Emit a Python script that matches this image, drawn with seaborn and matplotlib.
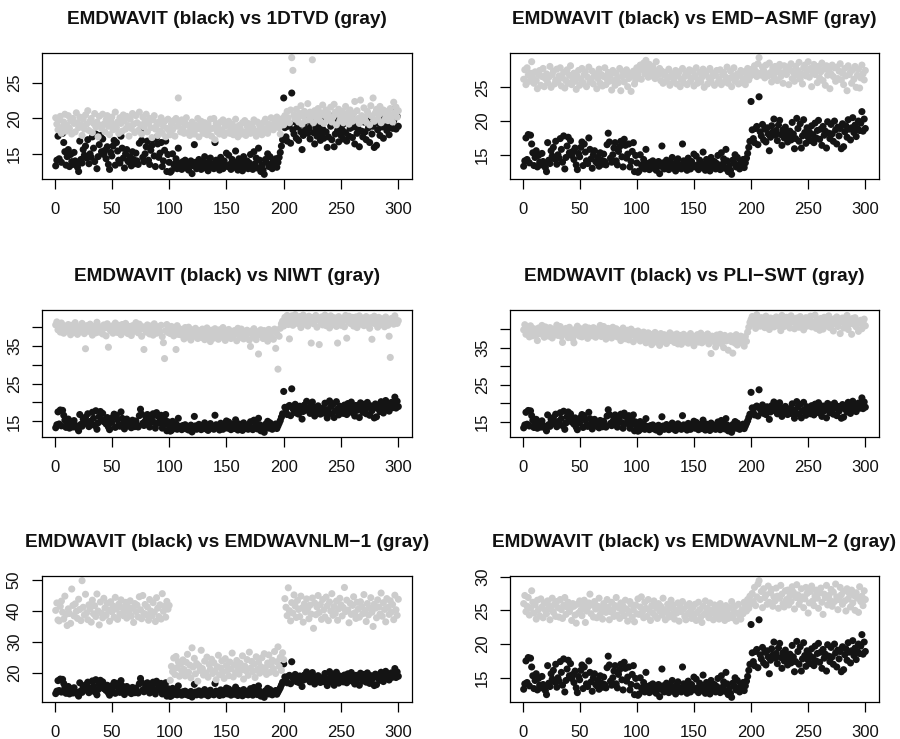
import numpy as np
import pandas as pd
import matplotlib
matplotlib.use("Agg")
import matplotlib.pyplot as plt
import seaborn as sns

# ---------------- data ----------------
emdwavit = [
 13.3, 14.1, 17.5, 14.3, 18.0, 13.8, 17.9, 16.6, 15.3, 13.4,
 14.6, 15.6, 13.2, 14.9, 13.9, 13.5, 15.2, 14.0, 13.7, 13.1,
 12.5, 16.8, 14.2, 13.7, 15.6, 14.8, 16.1, 14.4, 17.0, 13.6,
 15.0, 14.5, 17.4, 15.8, 13.9, 17.8, 12.9, 14.6, 16.3, 17.6,
 15.3, 17.1, 14.9, 15.5, 14.3, 16.0, 13.5, 12.8, 15.2, 14.7,
 16.1, 16.9, 13.4, 16.6, 15.4, 14.1, 13.7, 17.5, 15.8, 14.4,
 13.0, 15.0, 15.6, 14.0, 13.8, 14.6, 13.3, 15.3, 14.2, 13.6,
 15.1, 14.0, 13.5, 16.5, 18.2, 16.9, 14.5, 13.9, 15.0, 16.0,
 16.8, 14.1, 13.5, 15.5, 16.2, 17.0, 14.7, 13.2, 17.3, 16.4,
 14.5, 15.1, 16.6, 13.2, 14.0, 15.5, 16.8, 12.5, 14.9, 13.8,
 12.4, 12.6, 15.0, 13.5, 13.1, 14.3, 12.9, 15.8, 13.7, 13.4,
 12.8, 13.9, 13.2, 14.1, 13.0, 13.6, 12.7, 13.5, 14.0, 12.2,
 13.3, 16.3, 13.8, 12.9, 13.6, 14.2, 13.1, 12.8, 13.9, 13.4,
 14.6, 13.0, 13.7, 12.6, 13.9, 14.4, 13.2, 13.5, 12.9, 16.6,
 14.1, 13.3, 13.8, 12.7, 14.5, 13.6, 12.9, 14.0, 13.4, 15.1,
 13.2, 14.8, 13.5, 12.8, 14.2, 13.9, 13.1, 15.4, 13.6, 12.7,
 14.3, 13.0, 13.8, 12.6, 14.6, 13.4, 13.1, 14.0, 12.9, 13.7,
 14.9, 13.3, 12.8, 15.3, 13.6, 14.4, 13.0, 15.8, 14.1, 12.5,
 13.4, 12.7, 12.1, 14.2, 13.8, 15.0, 13.2, 14.6, 13.5, 12.9,
 14.0, 13.6, 14.3, 13.1, 13.8, 14.5, 15.2, 16.1, 17.0, 22.9,
 18.7, 17.4, 16.8, 18.9, 19.2, 16.5, 23.6, 18.4, 17.8, 19.5,
 17.2, 18.8, 16.9, 19.0, 18.1, 15.6, 17.6, 19.3, 18.4, 20.3,
 17.9, 18.6, 17.1, 19.4, 20.1, 18.0, 16.4, 18.7, 17.5, 19.1,
 18.3, 16.9, 17.7, 18.5, 17.2, 19.8, 18.1, 15.9, 17.4, 20.4,
 18.9, 17.0, 19.6, 16.0, 17.8, 20.2, 18.3, 16.7, 19.0, 17.6,
 18.4, 17.1, 19.3, 18.0, 16.8, 19.7, 17.5, 18.6, 20.1, 17.3,
 18.8, 16.4, 19.2, 17.9, 18.5, 16.0, 19.9, 18.2, 17.4, 19.5,
 18.1, 17.0, 20.0, 18.7, 16.6, 19.1, 17.8, 18.9, 15.9, 19.6,
 16.2, 18.4, 19.3, 17.6, 20.2, 18.8, 17.2, 19.0, 20.5, 18.3,
 19.4, 17.7, 18.9, 20.0, 18.6, 19.7, 21.4, 18.5, 20.3, 18.9,
]

dtvd_1 = [
 20.1, 19.2, 18.4, 19.8, 20.3, 17.9, 18.8, 19.5, 20.6, 18.2,
 19.0, 20.4, 18.6, 19.7, 17.8, 20.0, 19.3, 18.1, 20.8, 19.4,
 18.7, 20.2, 19.1, 17.6, 19.9, 18.5, 20.5, 19.2, 21.1, 18.3,
 19.6, 20.0, 18.0, 19.3, 20.7, 18.8, 19.5, 17.4, 20.3, 19.0,
 18.6, 20.6, 19.2, 18.1, 19.8, 20.4, 18.9, 17.7, 19.6, 20.2,
 18.4, 19.1, 20.9, 18.7, 19.5, 17.9, 20.1, 19.3, 18.2, 20.5,
 19.7, 18.5, 20.3, 19.0, 17.5, 19.9, 18.6, 20.7, 19.2, 18.0,
 20.4, 19.4, 18.3, 20.9, 19.1, 17.8, 20.2, 18.8, 19.6, 20.6,
 18.1, 19.3, 20.0, 18.7, 17.3, 19.8, 20.4, 18.5, 19.0, 17.6,
 19.5, 18.2, 20.1, 17.9, 18.9, 19.6, 17.4, 18.6, 19.9, 18.3,
 17.7, 19.2, 18.4, 19.7, 17.5, 20.0, 18.9, 22.9, 19.4, 18.1,
 19.8, 18.6, 17.9, 19.3, 20.1, 18.0, 19.0, 17.6, 18.7, 19.5,
 18.2, 17.8, 19.1, 18.5, 20.0, 17.4, 18.9, 19.6, 18.3, 17.9,
 19.4, 18.8, 17.7, 19.2, 18.4, 19.9, 17.5, 18.6, 20.0, 17.0,
 19.3, 18.1, 18.7, 17.8, 19.5, 18.3, 19.8, 17.6, 18.9, 19.1,
 18.0, 19.6, 17.9, 18.5, 19.2, 17.7, 18.8, 19.9, 18.2, 17.4,
 19.0, 18.6, 17.8, 19.4, 18.1, 19.7, 17.6, 18.9, 19.3, 18.4,
 17.9, 19.1, 18.7, 19.8, 18.0, 17.5, 19.5, 18.3, 19.0, 18.8,
 17.7, 19.4, 18.2, 19.9, 18.6, 17.9, 19.2, 18.5, 20.1, 19.0,
 18.4, 19.7, 18.9, 20.2, 19.3, 18.7, 17.8, 19.6, 20.0, 19.1,
 20.4, 19.6, 21.0, 20.1, 19.4, 21.2, 28.6, 26.8, 20.5, 19.9,
 21.3, 20.0, 19.5, 20.7, 21.8, 19.2, 20.3, 21.0, 19.7, 20.6,
 22.1, 19.8, 20.9, 20.2, 28.3, 19.4, 21.1, 20.5, 19.9, 21.4,
 20.3, 19.6, 20.8, 21.9, 19.3, 20.4, 21.2, 19.8, 20.7, 20.0,
 21.6, 19.5, 20.2, 22.0, 20.9, 19.1, 20.6, 21.3, 19.7, 20.1,
 21.0, 19.4, 20.5, 21.7, 19.9, 20.8, 19.2, 21.2, 20.3, 19.6,
 20.7, 22.4, 19.8, 21.1, 20.0, 19.3, 22.6, 20.4, 19.7, 21.5,
 20.2, 19.5, 21.0, 20.6, 19.1, 21.8, 20.3, 22.9, 19.6, 20.8,
 21.3, 19.9, 20.5, 21.7, 19.4, 20.9, 21.2, 19.8, 20.4, 21.0,
 19.7, 20.6, 21.4, 20.1, 19.5, 22.3, 20.8, 21.6, 20.2, 21.1,
]

emd_asmf = [
 26.2, 27.6, 25.4, 27.9, 26.8, 25.9, 27.1, 28.8, 26.4, 25.6,
 27.3, 26.0, 24.8, 26.9, 27.5, 25.3, 26.6, 27.8, 25.1, 26.3,
 27.0, 25.7, 26.5, 28.1, 25.0, 26.9, 27.4, 25.5, 26.1, 27.7,
 25.8, 26.7, 27.9, 25.2, 26.4, 27.2, 24.9, 26.0, 27.6, 25.6,
 26.8, 28.2, 25.4, 26.3, 27.1, 25.9, 24.7, 26.6, 27.5, 25.3,
 26.2, 27.8, 25.7, 26.9, 27.3, 25.1, 26.5, 28.0, 25.8, 26.1,
 27.4, 25.5, 26.7, 27.0, 24.8, 26.3, 27.7, 25.6, 26.9, 25.2,
 26.6, 27.9, 25.4, 26.2, 27.2, 25.9, 26.8, 24.6, 27.5, 26.0,
 25.3, 27.1, 26.4, 25.7, 27.8, 24.5, 26.6, 27.3, 25.8, 26.9,
 27.6, 25.1, 26.3, 27.0, 24.4, 26.7, 27.4, 25.5, 26.1, 27.9,
 26.8, 27.5, 28.3, 26.2, 27.7, 28.6, 27.0, 29.0, 27.9, 26.5,
 28.4, 27.3, 26.7, 28.1, 27.6, 26.3, 28.8, 27.1, 26.9, 27.8,
 26.0, 27.4, 25.6, 26.8, 27.2, 25.9, 26.5, 27.7, 25.3, 26.6,
 27.0, 25.8, 26.4, 27.5, 25.5, 26.9, 27.3, 25.1, 26.2, 27.8,
 25.7, 26.6, 27.1, 25.4, 26.8, 27.6, 25.9, 26.3, 27.4, 25.2,
 26.7, 27.9, 25.6, 26.1, 27.2, 25.8, 26.5, 27.7, 25.0, 26.9,
 27.3, 25.5, 26.4, 27.8, 25.9, 26.6, 27.1, 25.3, 26.8, 27.5,
 25.7, 26.2, 27.6, 25.4, 26.9, 27.2, 25.8, 26.5, 28.0, 25.6,
 26.3, 27.4, 25.1, 26.7, 27.9, 25.9, 26.4, 27.0, 25.5, 26.8,
 27.5, 25.7, 26.2, 27.3, 25.4, 26.9, 27.8, 26.1, 26.6, 27.2,
 27.7, 26.9, 28.2, 27.4, 26.6, 28.5, 29.4, 27.1, 26.8, 28.0,
 27.5, 26.4, 28.3, 27.0, 26.7, 28.6, 27.2, 25.8, 27.9, 26.5,
 28.1, 27.3, 26.0, 27.8, 28.4, 26.6, 27.1, 25.6, 28.2, 27.4,
 26.9, 28.0, 25.4, 27.6, 28.5, 26.3, 27.2, 25.9, 28.1, 26.8,
 27.5, 28.7, 26.2, 27.0, 25.5, 27.9, 28.3, 26.7, 27.4, 28.8,
 26.5, 27.8, 25.1, 27.2, 28.4, 26.9, 27.6, 25.7, 28.1, 26.4,
 27.3, 28.6, 26.0, 27.7, 25.3, 28.2, 26.8, 27.5, 24.8, 27.0,
 28.3, 26.6, 27.9, 25.9, 28.0, 26.3, 27.4, 28.5, 26.1, 27.1,
 25.4, 27.8, 26.7, 24.5, 28.2, 26.9, 27.3, 25.6, 27.6, 26.2,
 28.1, 25.0, 26.8, 27.7, 24.9, 26.4, 28.3, 27.0, 26.1, 27.5,
]

niwt = [
 40.5, 41.3, 39.2, 40.8, 38.6, 41.0, 39.7, 38.3, 40.2, 39.5,
 38.9, 40.6, 39.1, 37.9, 40.4, 39.8, 38.5, 41.1, 39.3, 38.0,
 40.0, 39.4, 38.7, 40.9, 39.6, 38.2, 34.2, 40.3, 39.0, 38.8,
 40.7, 39.2, 37.8, 40.1, 39.5, 38.4, 41.2, 39.9, 38.6, 40.0,
 39.3, 38.1, 40.5, 39.7, 37.6, 40.8, 34.6, 39.4, 38.9, 40.2,
 38.3, 39.8, 41.0, 39.1, 38.5, 40.4, 39.6, 37.9, 40.6, 39.0,
 38.7, 40.9, 39.3, 38.2, 40.1, 39.7, 37.7, 40.3, 38.8, 39.5,
 41.1, 39.0, 38.4, 40.7, 39.4, 37.5, 40.0, 34.0, 39.2, 38.6,
 40.5, 39.8, 38.1, 40.2, 39.6, 37.8, 40.8, 39.1, 38.3, 40.0,
 39.4, 38.7, 40.4, 37.4, 35.8, 31.6, 39.0, 40.6, 38.5, 39.7,
 38.2, 40.1, 39.3, 37.6, 38.9, 34.0, 40.3, 38.0, 39.5, 37.9,
 39.1, 38.4, 36.8, 39.8, 38.6, 37.3, 39.9, 38.1, 36.5, 39.2,
 38.7, 37.5, 39.6, 38.3, 36.9, 39.0, 38.5, 37.2, 39.4, 38.0,
 36.6, 38.8, 39.7, 37.4, 38.2, 36.1, 39.1, 38.6, 37.0, 39.5,
 38.4, 37.7, 36.7, 39.2, 38.0, 37.3, 39.8, 38.5, 36.4, 38.9,
 37.8, 39.3, 38.1, 36.9, 38.7, 37.5, 39.0, 38.3, 36.3, 39.6,
 38.0, 37.2, 39.4, 38.6, 36.8, 38.2, 37.6, 39.1, 38.4, 36.5,
 34.8, 38.9, 37.4, 39.5, 38.1, 36.6, 38.7, 32.8, 37.9, 39.2,
 38.3, 36.9, 39.0, 37.6, 38.5, 36.2, 39.3, 38.0, 37.3, 38.8,
 36.7, 39.4, 34.3, 38.2, 28.8, 37.5, 39.6, 40.8, 41.5, 40.2,
 42.5, 41.2, 43.0, 40.6, 36.8, 41.8, 42.9, 40.4, 41.6, 43.2,
 42.1, 40.9, 41.4, 42.7, 39.8, 41.9, 43.1, 40.7, 42.3, 41.5,
 40.2, 42.8, 41.1, 35.7, 42.4, 40.8, 41.7, 43.0, 39.9, 42.2,
 35.3, 41.3, 42.6, 40.5, 41.9, 43.1, 40.3, 42.0, 41.4, 39.7,
 42.9, 41.0, 40.6, 42.4, 41.8, 40.1, 35.7, 42.7, 41.2, 40.4,
 42.2, 41.6, 40.0, 43.0, 37.0, 41.5, 42.8, 40.9, 41.3, 42.5,
 40.2, 41.9, 42.6, 39.8, 41.1, 42.9, 40.7, 41.6, 42.3, 40.3,
 41.8, 42.7, 40.5, 41.2, 39.6, 42.4, 36.7, 41.0, 42.8, 40.8,
 41.7, 39.9, 42.5, 41.3, 40.6, 42.1, 41.4, 40.0, 42.6, 41.1,
 40.4, 37.5, 31.9, 42.2, 41.5, 40.7, 42.9, 41.8, 40.9, 41.6,
]

pli_swt = [
 39.8, 41.2, 38.6, 40.5, 39.1, 37.9, 40.9, 39.4, 38.2, 40.1,
 39.6, 38.4, 36.9, 40.3, 39.0, 38.7, 41.0, 39.3, 37.8, 40.6,
 38.9, 39.7, 38.1, 40.4, 39.2, 37.6, 40.0, 38.5, 39.9, 41.1,
 38.3, 39.5, 40.7, 38.0, 36.4, 39.8, 38.7, 40.2, 39.1, 37.7,
 40.5, 38.8, 39.4, 37.4, 36.3, 39.9, 38.6, 40.8, 39.2, 38.1,
 40.1, 37.9, 39.6, 38.4, 40.6, 39.0, 37.5, 40.3, 38.9, 39.7,
 38.2, 40.4, 39.3, 37.8, 40.0, 38.6, 39.5, 41.0, 38.0, 39.1,
 40.7, 38.5, 37.3, 39.8, 40.2, 38.8, 39.4, 37.6, 40.5, 38.3,
 39.0, 40.1, 37.9, 38.7, 39.6, 36.9, 38.4, 40.3, 39.2, 37.4,
 38.9, 39.7, 37.1, 38.2, 40.0, 38.6, 36.6, 39.3, 38.0, 37.7,
 39.5, 38.1, 36.8, 38.9, 37.5, 39.2, 38.4, 36.3, 37.8, 39.0,
 37.2, 38.6, 35.8, 38.3, 37.0, 39.1, 36.5, 38.0, 37.6, 35.6,
 38.8, 37.3, 36.7, 38.5, 37.9, 36.1, 38.2, 37.4, 39.0, 36.9,
 37.7, 38.4, 36.4, 37.1, 38.7, 36.0, 37.8, 38.3, 35.9, 37.2,
 38.6, 36.6, 37.5, 38.1, 36.2, 37.9, 38.8, 36.8, 37.3, 35.5,
 38.0, 37.1, 38.5, 36.5, 37.7, 38.9, 36.3, 37.4, 38.2, 36.9,
 37.6, 38.7, 36.0, 37.3, 33.4, 38.1, 36.7, 37.8, 35.2, 38.4,
 36.4, 37.9, 38.6, 36.1, 37.2, 35.0, 38.3, 36.8, 37.5, 34.3,
 37.0, 38.2, 36.6, 33.5, 37.7, 36.2, 38.5, 35.7, 37.4, 36.9,
 38.1, 36.3, 37.6, 35.4, 38.0, 36.7, 39.2, 40.5, 41.8, 42.6,
 43.4, 41.3, 42.8, 40.2, 43.9, 41.7, 42.4, 40.8, 43.1, 41.9,
 42.6, 40.4, 43.5, 41.6, 42.2, 39.9, 43.0, 41.1, 42.7, 40.6,
 41.8, 43.3, 40.9, 42.5, 41.4, 39.6, 43.7, 42.0, 40.7, 41.5,
 43.2, 41.0, 42.3, 40.3, 43.6, 41.9, 42.8, 40.1, 41.6, 43.0,
 42.1, 40.5, 43.4, 41.2, 42.6, 39.8, 41.7, 43.1, 40.8, 42.4,
 41.3, 43.5, 40.6, 42.0, 41.5, 43.8, 40.2, 42.7, 41.1, 39.7,
 42.9, 41.4, 40.0, 43.2, 42.2, 40.9, 41.8, 43.6, 40.4, 42.5,
 41.2, 39.5, 42.8, 41.6, 43.3, 40.7, 42.1, 38.8, 41.9, 43.0,
 40.3, 42.6, 41.0, 43.7, 39.9, 42.3, 41.5, 38.6, 42.9, 41.3,
 43.1, 40.6, 42.0, 39.4, 41.7, 42.4, 40.1, 41.8, 42.7, 40.9,
]

emdwavnlm_1 = [
 40.2, 42.6, 37.1, 36.8, 41.5, 43.2, 39.6, 37.4, 44.8, 38.9,
 35.3, 40.7, 39.2, 36.0, 47.1, 41.8, 38.4, 42.3, 39.9, 37.6,
 43.8, 40.5, 36.9, 49.8, 41.2, 38.7, 45.4, 39.4, 37.2, 42.0,
 40.8, 36.4, 43.5, 39.1, 41.7, 38.2, 45.5, 40.0, 35.5, 42.9,
 39.3, 37.8, 44.1, 41.0, 38.6, 42.5, 40.3, 36.7, 43.0, 39.7,
 41.6, 38.0, 44.4, 40.6, 37.3, 42.2, 39.0, 43.6, 41.1, 38.5,
 40.1, 42.8, 37.7, 41.4, 39.5, 43.3, 38.3, 40.9, 36.3, 42.4,
 39.8, 41.9, 38.1, 44.6, 40.4, 37.5, 45.0, 39.2, 42.1, 38.8,
 41.3, 37.0, 43.7, 40.0, 38.4, 42.7, 39.6, 36.6, 44.3, 40.9,
 38.2, 42.0, 37.4, 45.6, 39.9, 41.5, 38.0, 43.1, 40.6, 41.8,
 17.6, 22.1, 20.4, 24.8, 19.5, 25.3, 21.7, 23.6, 18.9, 22.8,
 20.6, 24.2, 21.1, 19.0, 23.4, 26.0, 20.2, 22.5, 18.4, 28.1,
 21.9, 24.7, 19.7, 23.0, 17.3, 22.3, 20.8, 27.3, 21.4, 19.3,
 23.8, 20.0, 25.1, 18.6, 22.7, 21.2, 24.4, 19.8, 23.3, 20.5,
 17.8, 22.0, 25.7, 19.4, 21.6, 23.9, 20.3, 18.2, 24.6, 22.4,
 20.9, 19.1, 23.5, 21.3, 26.4, 18.7, 22.6, 20.1, 24.0, 21.8,
 19.6, 23.1, 21.0, 25.5, 18.0, 22.2, 20.7, 24.3, 19.2, 26.7,
 21.5, 23.7, 20.4, 22.9, 18.5, 25.2, 21.1, 23.4, 19.9, 22.0,
 24.9, 20.6, 26.2, 21.7, 19.5, 23.2, 25.8, 20.2, 22.5, 24.1,
 21.3, 26.9, 19.8, 23.6, 28.4, 22.1, 25.0, 20.8, 26.5, 24.3,
 44.0, 41.2, 38.5, 47.5, 40.1, 36.8, 42.7, 39.3, 45.2, 41.6,
 37.9, 43.4, 40.5, 38.2, 44.8, 41.0, 36.4, 42.3, 39.7, 43.9,
 40.8, 37.5, 41.9, 39.0, 44.2, 34.4, 42.6, 38.8, 41.3, 45.0,
 39.5, 42.1, 37.3, 43.7, 40.4, 38.1, 44.5, 41.7, 36.9, 42.9,
 40.0, 45.6, 38.6, 41.4, 39.2, 43.2, 37.0, 40.7, 44.1, 42.0,
 38.4, 41.1, 47.6, 39.8, 43.5, 40.3, 36.2, 42.5, 38.9, 41.8,
 44.6, 39.4, 37.6, 42.8, 40.6, 38.0, 43.0, 41.5, 39.1, 45.3,
 40.2, 36.6, 42.4, 38.7, 41.0, 44.3, 39.6, 35.0, 42.2, 40.9,
 37.8, 43.6, 41.3, 39.0, 45.8, 38.3, 42.7, 40.5, 36.5, 44.0,
 41.2, 38.9, 43.3, 39.7, 42.1, 37.2, 45.1, 40.4, 38.6, 43.8,
]

emdwavnlm_2 = [
 26.0, 27.2, 24.8, 25.6, 26.9, 24.3, 25.3, 27.9, 26.2, 24.6,
 25.8, 23.7, 26.5, 25.1, 24.2, 26.7, 25.5, 23.9, 26.1, 25.0,
 24.5, 26.4, 25.7, 23.6, 25.2, 26.8, 24.7, 25.9, 24.1, 26.3,
 25.4, 24.0, 26.6, 25.1, 23.8, 25.8, 26.9, 24.4, 25.5, 26.2,
 24.8, 25.3, 23.5, 26.0, 25.6, 24.3, 23.1, 25.9, 24.6, 26.4,
 25.0, 24.2, 25.7, 26.5, 23.2, 24.9, 25.4, 26.1, 27.4, 24.5,
 25.8, 24.0, 26.3, 25.2, 23.9, 25.6, 26.8, 24.4, 25.1, 23.7,
 26.0, 25.3, 24.7, 26.6, 25.5, 23.6, 24.8, 26.2, 25.0, 24.1,
 25.7, 26.9, 24.3, 25.4, 23.8, 26.1, 24.9, 25.6, 24.2, 26.5,
 25.2, 23.4, 24.6, 26.3, 25.9, 24.0, 25.1, 23.3, 25.8, 24.5,
 26.7, 24.4, 25.5, 27.0, 24.8, 23.9, 26.2, 25.3, 24.1, 26.6,
 25.0, 23.5, 25.7, 24.6, 26.4, 24.2, 25.4, 23.8, 26.0, 24.9,
 25.6, 24.3, 26.8, 25.1, 23.6, 24.7, 25.9, 24.0, 25.3, 26.5,
 24.4, 25.8, 23.7, 25.0, 24.6, 26.1, 23.4, 25.5, 24.8, 26.3,
 25.2, 24.1, 23.6, 25.7, 24.5, 26.0, 24.9, 23.8, 25.4, 24.3,
 25.9, 23.5, 24.7, 26.2, 25.1, 24.0, 23.2, 25.6, 24.4, 26.4,
 24.8, 25.3, 23.9, 26.1, 24.6, 25.0, 23.6, 25.8, 24.2, 25.5,
 24.9, 23.7, 26.0, 24.5, 25.2, 24.1, 23.5, 25.7, 24.7, 23.8,
 25.4, 24.3, 26.3, 23.9, 24.8, 25.6, 23.4, 24.6, 25.9, 24.2,
 23.7, 25.1, 24.5, 26.2, 25.8, 24.9, 26.6, 25.3, 27.1, 26.0,
 27.5, 26.3, 28.4, 25.7, 27.0, 28.9, 29.4, 26.6, 27.8, 25.4,
 28.2, 26.9, 27.3, 25.9, 28.6, 26.2, 27.6, 28.1, 25.6, 27.0,
 26.4, 28.3, 27.1, 25.3, 26.8, 28.7, 27.4, 26.0, 25.5, 27.9,
 26.6, 28.0, 25.8, 27.2, 26.3, 28.5, 27.7, 25.2, 26.9, 28.8,
 27.3, 25.9, 26.5, 28.2, 27.0, 25.4, 26.7, 28.4, 27.5, 24.6,
 26.1, 27.8, 28.6, 26.4, 25.7, 27.1, 28.0, 26.8, 25.3, 27.6,
 28.3, 26.2, 24.4, 27.4, 26.9, 28.7, 25.8, 27.2, 26.5, 28.1,
 25.6, 27.7, 26.3, 28.9, 27.0, 25.1, 26.6, 28.4, 27.3, 25.9,
 27.8, 26.4, 24.9, 28.2, 26.7, 27.5, 25.5, 28.0, 26.1, 27.2,
 25.0, 27.6, 26.8, 24.7, 28.5, 26.3, 27.1, 25.7, 27.9, 26.6,
]

gray_names = ["1DTVD", "EMD\u2212ASMF", "NIWT", "PLI\u2212SWT", "EMDWAVNLM\u22121", "EMDWAVNLM\u22122"]
gray_series = [dtvd_1, emd_asmf, niwt, pli_swt, emdwavnlm_1, emdwavnlm_2]

x_ticks = [0, 50, 100, 150, 200, 250, 300]
y_ticks = [
    [15, 20, 25],
    [15, 20, 25],
    [15, 20, 25, 30, 35, 40],
    [15, 20, 25, 30, 35, 40],
    [20, 30, 40, 50],
    [15, 20, 25, 30],
]
y_tick_labels = [
    ["15", "20", "25"],
    ["15", "20", "25"],
    ["15", "", "25", "", "35", ""],
    ["15", "", "25", "", "35", ""],
    ["20", "30", "40", "50"],
    ["15", "20", "25", "30"],
]

# ---------------- style ----------------
sns.set_style("white")
plt.rcParams["font.family"] = ["Liberation Sans", "DejaVu Sans"]
plt.rcParams["axes.linewidth"] = 0.9

W, H = 900, 739
fig = plt.figure(figsize=(9, 7.39), dpi=100)

col_left = [42, 510]
col_width = [370, 369]
row_top = [53, 310, 576]
row_height = [126, 127, 126]

idx = np.arange(1, len(emdwavit) + 1)

for k, (name, gser) in enumerate(zip(gray_names, gray_series)):
    r, c = divmod(k, 2)
    left = col_left[c] / W
    bottom = 1 - (row_top[r] + row_height[r]) / H
    ax = fig.add_axes([left, bottom, col_width[c] / W, row_height[r] / H])

    df = pd.DataFrame({"idx": np.concatenate([idx, idx]),
                       "value": np.concatenate([emdwavit, gser]),
                       "series": ["black"] * len(idx) + ["gray"] * len(idx)})
    sns.scatterplot(data=df, x="idx", y="value", hue="series",
                    palette={"black": "#141414", "gray": "#cccccc"},
                    s=26, linewidth=0, legend=False, ax=ax)

    allv = df["value"].to_numpy()
    ylo, yhi = allv.min(), allv.max()
    yr = yhi - ylo
    ax.set_ylim(ylo - 0.04 * yr, yhi + 0.04 * yr)
    xr = idx.max() - idx.min()
    ax.set_xlim(idx.min() - 0.04 * xr, idx.max() + 0.04 * xr)

    ax.set_xticks(x_ticks)
    ax.set_xticklabels([str(t) for t in x_ticks])
    ax.set_yticks(y_ticks[k])
    ax.set_yticklabels(y_tick_labels[k], rotation=90, va="center")
    ax.tick_params(axis="both", direction="out", length=7.5, width=0.9,
                   labelsize=12, color="black", labelcolor="#111111")
    ax.tick_params(axis="x", pad=9)
    ax.tick_params(axis="y", pad=7)
    ax.tick_params(left=True, bottom=True)
    ax.set_xlabel("")
    ax.set_ylabel("")
    for sp in ax.spines.values():
        sp.set_visible(True)
        sp.set_color("black")
        sp.set_linewidth(0.9)
    ax.set_title(f"EMDWAVIT (black) vs {name} (gray)", fontsize=13.7,
                 fontweight="bold", pad=21, color="#111111")

fig.savefig("out.png", dpi=100)
